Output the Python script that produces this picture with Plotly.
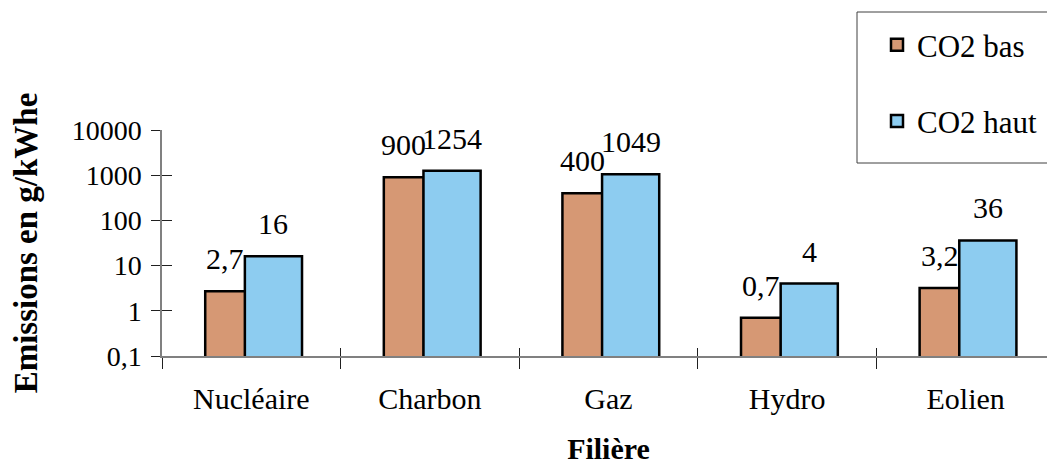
import plotly.graph_objects as go
import math

categories = ["Nucléaire", "Charbon", "Gaz", "Hydro", "Eolien"]
co2_bas = [2.7, 900, 400, 0.7, 3.2]
co2_haut = [16, 1254, 1049, 4, 36]
labels_bas = ["2,7", "900", "400", "0,7", "3,2"]
labels_haut = ["16", "1254", "1049", "4", "36"]
tick_vals = [0.1, 1, 10, 100, 1000, 10000]
tick_text = ["0,1", "1", "10", "100", "1000", "10000"]

# page body adds an 8px offset; figure is sized so it ends at the window edge
OFF = 8
W, H = 1055 - OFF, 465 - OFF
ML, MR, MT, MB = 162 - OFF, 0, 130 - OFF, 465 - 356
plot_w = W - ML - MR
plot_h = H - MT - MB
cat_px = plot_w / len(categories)

FONT = "Liberation Serif"
ORANGE = "#D69874"
BLUE = "#8DCCF0"

w_bas, off_bas = 0.224, -0.258
w_haut, off_haut = 0.32, -0.036

fig = go.Figure()
fig.add_trace(go.Bar(
    name="CO2 bas", x=categories, y=co2_bas, width=w_bas, offset=off_bas,
    marker=dict(color=ORANGE, line=dict(color="black", width=2.5)),
    legendgroup="a",
))
fig.add_trace(go.Bar(
    name="CO2 haut", x=categories, y=co2_haut, width=w_haut, offset=off_haut,
    marker=dict(color=BLUE, line=dict(color="black", width=2.5)),
    legendgroup="b",
))
# helper trace for the inner half of crossing ticks
fig.add_trace(go.Scatter(
    x=categories, y=co2_bas, xaxis="x2", yaxis="y2", mode="markers",
    marker=dict(opacity=0), showlegend=False, hoverinfo="skip",
))

annotations = []
for i, c in enumerate(categories):
    for val, lab, w, off in ((co2_bas[i], labels_bas[i], w_bas, off_bas),
                             (co2_haut[i], labels_haut[i], w_haut, off_haut)):
        annotations.append(dict(
            x=c, y=math.log10(val), xref="x", yref="y", text=lab,
            showarrow=False, xanchor="center", yanchor="bottom",
            xshift=(off + w / 2) * cat_px, yshift=14,
            font=dict(family=FONT, size=30, color="black"),
        ))

# screen-pixel helpers (screen coords include the page offset)
def sy(p):
    return 1 + ((MT + OFF) - p) / plot_h
def sx(p):
    return (p - (ML + OFF)) / plot_w

fig.update_layout(
    width=W, height=H,
    margin=dict(l=ML, r=MR, t=MT, b=MB, pad=0),
    paper_bgcolor="white", plot_bgcolor="white",
    barmode="overlay",
    font=dict(family=FONT, size=29, color="black"),
    showlegend=True,
    legend=dict(
        x=sx(877), xanchor="left", y=sy(18), yanchor="top",
        bgcolor="rgba(0,0,0,0)", borderwidth=0,
        font=dict(family=FONT, size=31, color="black"),
        tracegroupgap=33, traceorder="grouped",
    ),
    annotations=annotations,
    shapes=[dict(
        type="rect", xref="paper", yref="paper",
        x0=sx(857), x1=sx(1070), y0=sy(163), y1=sy(12),
        line=dict(color="#404040", width=1), fillcolor="rgba(0,0,0,0)",
    )],
    xaxis=dict(
        type="category", categoryorder="array", categoryarray=categories,
        showline=True, linecolor="#808080", linewidth=1.5,
        ticks="outside", ticklen=11, tickcolor="#202020", tickwidth=1,
        tickson="boundaries", showgrid=False, zeroline=False,
        ticklabelstandoff=15,
        tickfont=dict(family=FONT, size=30, color="black"),
        title=dict(text="<b>Filière</b>", font=dict(family=FONT, size=30),
                   standoff=25),
    ),
    yaxis=dict(
        type="log", range=[-1, 4],
        tickvals=tick_vals, ticktext=tick_text,
        showline=True, linecolor="#808080", linewidth=1.5,
        ticks="outside", ticklen=9, tickcolor="#202020", tickwidth=1,
        showgrid=False, zeroline=False, ticklabelstandoff=4,
        tickfont=dict(family=FONT, size=28, color="black"),
        title=dict(text="<b>Emissions en g/kWhe</b>", font=dict(family=FONT, size=33),
                   standoff=33),
    ),
    xaxis2=dict(
        type="category", categoryorder="array", categoryarray=categories,
        overlaying="x", matches="x", showline=False,
        ticks="inside", ticklen=8, tickcolor="#202020", tickwidth=1,
        tickson="boundaries", showticklabels=False, showgrid=False, zeroline=False,
    ),
    yaxis2=dict(
        type="log", range=[-1, 4], overlaying="y", side="left",
        tickvals=tick_vals, showticklabels=False, showline=False,
        ticks="inside", ticklen=10, tickcolor="#202020", tickwidth=1,
        showgrid=False, zeroline=False,
    ),
)

fig.write_html("out.html")
